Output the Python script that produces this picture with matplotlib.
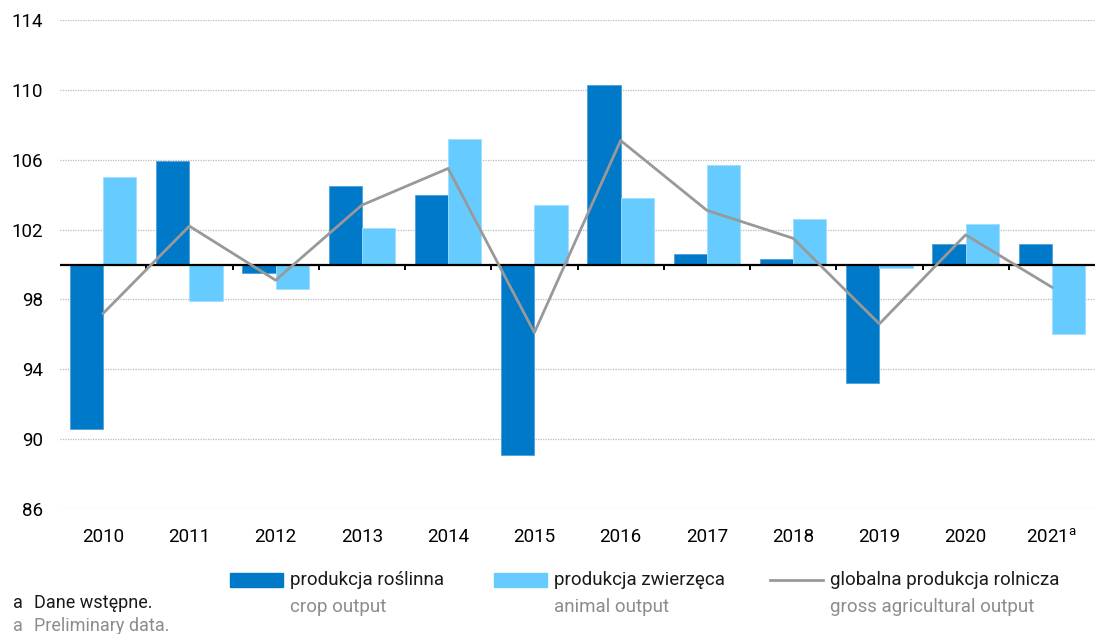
import matplotlib
matplotlib.use("Agg")
import matplotlib.pyplot as plt
from matplotlib.patches import Rectangle
from matplotlib.lines import Line2D
import numpy as np

plt.rcParams['font.family'] = ['Liberation Sans Narrow', 'Roboto', 'DejaVu Sans']

# dane: indeksy (rok poprzedni = 100)
lata = ['2010', '2011', '2012', '2013', '2014', '2015', '2016', '2017', '2018', '2019', '2020', '2021']
roslinna = [90.6, 105.9, 99.5, 104.5, 104.0, 89.1, 110.3, 100.6, 100.3, 93.2, 101.2, 101.2]
zwierzeca = [105.0, 97.9, 98.6, 102.1, 107.2, 103.4, 103.8, 105.7, 102.6, 99.8, 102.3, 96.0]
globalna = [97.2, 102.2, 99.1, 103.4, 105.5, 96.1, 107.1, 103.1, 101.5, 96.6, 101.7, 98.7]
y_ticks = [86, 90, 94, 98, 102, 106, 110, 114]

c_dark = '#0079C8'
c_light = '#66CCFF'
c_line = '#999999'
c_grey = '#8C8C8C'

fig = plt.figure(figsize=(10.95, 6.34), dpi=100)
ax = fig.add_axes([60 / 1095, 1 - 509 / 634, 1 - 60 / 1095, (509 - 20) / 634])

x = np.arange(len(lata))
w = 0.385
base = 100
ax.bar(x, np.array(roslinna) - base, bottom=base, width=-w, align='edge',
       color=c_dark, edgecolor='#4AA3DD', linewidth=0.6, zorder=3)
ax.bar(x, np.array(zwierzeca) - base, bottom=base, width=w, align='edge',
       color=c_light, edgecolor='#9EDDFF', linewidth=0.6, zorder=3)
ax.plot(x, globalna, color=c_line, linewidth=2.0, zorder=5)

# linia bazowa 100 i znaczniki
ax.axhline(base, color='black', linewidth=1.6, zorder=4)
ax.vlines(x[:-1] + 0.5, base - 0.3, base, color='black', linewidth=1.4, zorder=4)

ax.set_xlim(-0.5, len(lata) - 0.5)
ax.set_ylim(86, 114)
ax.set_yticks(y_ticks)
ax.set_yticklabels([str(t) for t in y_ticks], fontsize=13.5)
ax.yaxis.grid(True, color='#BBBBBB', linestyle=(0, (1, 1)), linewidth=0.9)
ax.set_axisbelow(True)
ax.set_xticks(x)
labels = lata[:-1] + ['2021$^{\\mathregular{a}}$']
ax.set_xticklabels(labels, fontsize=13.5)
ax.tick_params(axis='both', length=0)
ax.tick_params(axis='x', pad=14)
ax.tick_params(axis='y', pad=12)
for s in ax.spines.values():
    s.set_visible(False)

# legenda
W, H = 1095, 634
def fx(px):
    return px / W
def fy(py):
    return 1 - py / H

legend_items = [
    ('bar', c_dark, 'produkcja roślinna', 'crop output', 230),
    ('bar', c_light, 'produkcja zwierzęca', 'animal output', 494),
    ('line', c_line, 'globalna produkcja rolnicza', 'gross agricultural output', 770),
]
for kind, col, pl, en, px in legend_items:
    if kind == 'bar':
        fig.patches.append(Rectangle((fx(px), fy(587)), fx(53), 14 / H,
                                     transform=fig.transFigure, color=col))
    else:
        fig.lines.append(Line2D([fx(px), fx(px + 53)], [fy(580), fy(580)],
                                transform=fig.transFigure, color=col, linewidth=2.0))
    fig.text(fx(px + 60), fy(580), pl, fontsize=13.5, va='center', ha='left', color='#1A1A1A')
    fig.text(fx(px + 60), fy(607), en, fontsize=13.5, va='center', ha='left', color=c_grey)

# przypisy
fig.text(fx(13), fy(603), 'a', fontsize=13, va='center', color='#1A1A1A')
fig.text(fx(34), fy(603), 'Dane wstępne.', fontsize=13, va='center', color='#1A1A1A')
fig.text(fx(13), fy(626), 'a', fontsize=13, va='center', color=c_grey)
fig.text(fx(34), fy(626), 'Preliminary data.', fontsize=13, va='center', color=c_grey)

fig.savefig('out.png', dpi=100)
